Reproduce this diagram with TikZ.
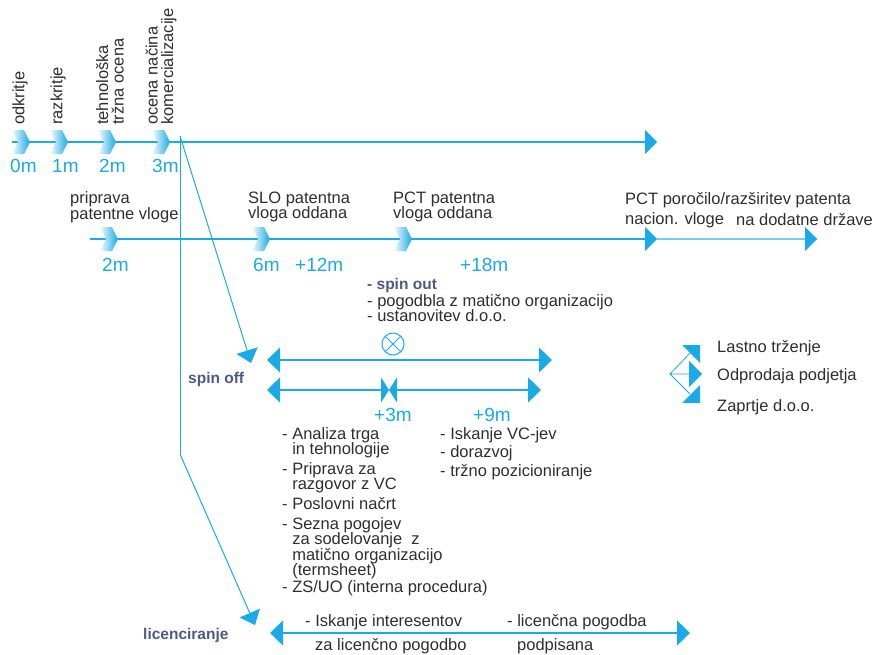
\documentclass[tikz,border=0pt]{standalone}
\usepackage{fontspec}
\setmainfont{Liberation Sans}
\usetikzlibrary{arrows.meta}
\definecolor{tlblue}{HTML}{1AAAE6}
\definecolor{tltext}{HTML}{2E2E2E}
\definecolor{tlnavy}{HTML}{4B5A86}
\newcommand{\lbl}{\fontsize{16.5}{15.5}\selectfont\lineskiplimit=-20pt}
\newcommand{\mon}{\fontsize{19}{19}\selectfont}
\newcommand{\hd}{\fontsize{15.5}{16}\selectfont\bfseries}
\tikzset{
  txt/.style={text=tltext, font=\lbl, inner sep=0pt, align=left},
  mon/.style={text=tlblue, font=\mon, inner sep=0pt},
  hd/.style={text=tlnavy, font=\hd, inner sep=0pt},
  tl/.style={draw=tlblue, line width=1.3pt},
  thinl/.style={draw=tlblue, line width=1pt},
  tip/.style={-{Triangle[length=12pt,width=24pt]}},
  both/.style={{Triangle[length=13pt,width=25pt]}-{Triangle[length=13pt,width=25pt]}},
  chev/.pic={\shade[left color=tlblue!5, right color=tlblue]
    (0,-12) -- (12,-12) -- (18,0) -- (12,12) -- (0,12) -- (6,0) -- cycle;}
}
\begin{document}
\begin{tikzpicture}[x=1pt,y=-1pt]
\useasboundingbox (0,0) rectangle (872,654);
% Main points
\path
  (12,142) coordinate (t0)
  (657,142) coordinate (tend)
  (90,239) coordinate (p0)
  (657,239) coordinate (pct)
  (817,239) coordinate (pend)
  (180,136) coordinate (v0)
  (180,454) coordinate (v1)
  (251,363) coordinate (so)
  (255,625) coordinate (li)
  ;
% Top timeline
\draw[tl,tip] (t0) -- (tend);
\foreach \x/\m in {12/0m,50/1m,98/2m,152/3m}
  \pic at (\x,142) {chev};
\foreach \x/\m in {10/0m,52/1m,99/2m,152/3m}
  \node[mon, anchor=west] (top\m) at (\x,166) {\m};
\node[txt, rotate=90, anchor=west] (odkritje) at (20,125) {odkritje};
\node[txt, rotate=90, anchor=west] (razkritje) at (58,125) {razkritje};
\node[txt, rotate=90, anchor=west] (tehno) at (110,125) {tehnološka\\tržna ocena};
\node[txt, rotate=90, anchor=west] (ocena) at (161,125) {ocena načina\\komercializacije};
% Patent timeline
\draw[tl,tip] (p0) -- (pct);
\draw[tl,draw=tlblue!60] (pct) -- (pend);
\fill[tlblue] (805,227) -- (pend) -- (805,251) -- cycle;
\foreach \x in {100,252,394}
  \pic at (\x,239) {chev};
\node[txt, anchor=west] (priprava) at (70,207) {priprava\\patentne vloge};
\node[txt, anchor=west] (slo) at (248,207) {SLO patentna\\vloga oddana};
\node[txt, anchor=west] (pctv) at (393,207) {PCT patentna\\vloga oddana};
\node[txt, anchor=west] (porocilo) at (625,200) {PCT poročilo/razširitev patenta};
\node[txt, anchor=west] (nacion) at (625,220) {nacion. vloge};
\node[txt, anchor=west] (drzave) at (736,220) {na dodatne države};
\node[mon, anchor=west] (m2) at (102,265) {2m};
\node[mon, anchor=west] (m6) at (253,265) {6m};
\node[mon, anchor=west] (m12) at (295,265) {+12m};
\node[mon, anchor=west] (m18) at (460,265) {+18m};
% Branches
\draw[thinl] (v0) -- (v1);
\draw[thinl,-{Triangle[length=13pt,width=22pt]}] (v0) -- (so);
\draw[thinl,-{Triangle[length=13pt,width=22pt]}] (v1) -- (li);
% Spin off
\node[hd, anchor=west] (spinout) at (367,285) {- spin out};
\node[txt, anchor=north west] (pogodba) at (367,294)
  {- pogodbla z matično organizacijo\\- ustanovitev d.o.o.};
\node[draw=tlblue, line width=1pt, circle, minimum size=22pt, inner sep=0pt] (otimes) at (393,344) {};
\draw[tlblue, line width=1pt] (otimes.45) -- (otimes.225) (otimes.135) -- (otimes.315);
\path (267,360) coordinate (a1) (552,360) coordinate (a2)
  (267,390) coordinate (b1) (389,390) coordinate (bm) (541,390) coordinate (b2);
\draw[tl,both] (a1) -- (a2);
\draw[tl,{Triangle[length=13pt,width=25pt]}-{Triangle[length=8pt,width=25pt]}] (b1) -- (bm);
\draw[tl,{Triangle[length=8pt,width=25pt]}-{Triangle[length=13pt,width=25pt]}] (bm) -- (b2);
\node[hd, anchor=west] (spinoff) at (188,379) {spin off};
\node[mon, anchor=west] (p3) at (374,415) {+3m};
\node[mon, anchor=west] (p9) at (473,415) {+9m};
% Lists
\node[txt, anchor=north west] (analiza) at (282,427) {- Analiza trga\\\phantom{- }in tehnologije};
\node[txt, anchor=north west] (pripr) at (282,462) {- Priprava za\\\phantom{- }razgovor z VC};
\node[txt, anchor=north west] (nacrt) at (282,497) {- Poslovni načrt};
\node[txt, anchor=north west] (sezna) at (282,517)
  {- Sezna pogojev\\\phantom{- }za sodelovanje\ \ z\\\phantom{- }matično organizacijo\\\phantom{- }(termsheet)};
\node[txt, anchor=north west] (zsuo) at (282,580) {- ZS/UO (interna procedura)};
\node[txt, anchor=north west, font=\fontsize{16.5}{18.5}\selectfont] (vc) at (440,427)
  {- Iskanje VC-jev\\- dorazvoj\\- tržno pozicioniranje};
% Legend
\fill[tlblue] (682,345) -- (700,345) -- (700,363) -- cycle;
\fill[tlblue] (689,361) -- (702,374) -- (689,387) -- cycle;
\fill[tlblue] (682,403) -- (700,403) -- (700,385) -- cycle;
\coordinate (lg) at (670,374);
\draw[tlblue, line width=0.8pt] (690,353) -- (lg) -- (690,394) (lg) -- (689,374);
\node[txt, anchor=west] (lastno) at (717,348) {Lastno trženje};
\node[txt, anchor=west] (odprodaja) at (717,376) {Odprodaja podjetja};
\node[txt, anchor=west] (zaprtje) at (717,407) {Zaprtje d.o.o.};
% Licenciranje
\path (270,633) coordinate (c1) (690,633) coordinate (c2);
\draw[tl,both] (c1) -- (c2);
\node[hd, anchor=west] (licenc) at (143,635) {licenciranje};
\node[txt, anchor=west] (iskanje) at (305,622) {- Iskanje interesentov};
\node[txt, anchor=west] (zalic) at (315,646) {za licenčno pogodbo};
\node[txt, anchor=west] (licpog) at (507,622) {- licenčna pogodba};
\node[txt, anchor=west] (podpis) at (517,646) {podpisana};
\end{tikzpicture}
\end{document}
